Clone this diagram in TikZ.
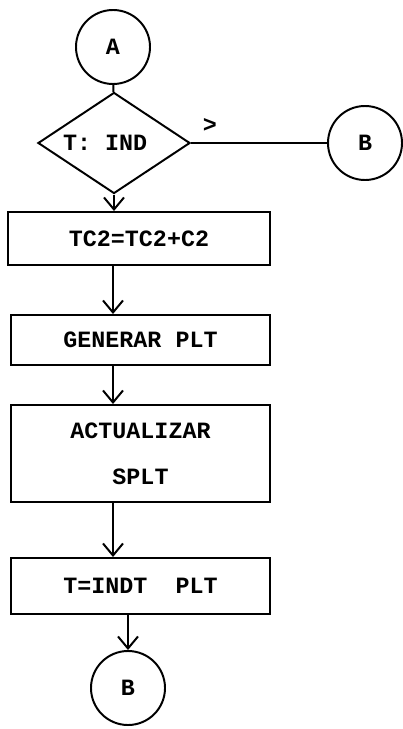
\documentclass[tikz,border=0pt]{standalone}
\usepackage{fontspec}
\setmonofont{Liberation Mono}
\usetikzlibrary{shapes.geometric,arrows.meta}

\begin{document}
\begin{tikzpicture}[x=0.025cm,y=-0.025cm,line width=1.4pt,
	conector/.style={draw,circle,minimum size=1.85cm,inner sep=0pt},
	caja/.style={draw,rectangle,minimum width=6.475cm,inner sep=0pt},
	decision/.style={draw,diamond,minimum width=3.8cm,minimum height=2.525cm,inner sep=0pt},
	flecha/.style={-{Straight Barb[length=3mm,width=5mm]}},
	every node/.style={font=\ttfamily\bfseries\fontsize{16.6}{32.7}\selectfont}]
	\useasboundingbox (0,0) rectangle (402,729);
	\node[conector] (A) at (113,47) {A};
	\node[decision,label={[xshift=-0.22cm]center:{T: IND}}] (ind) at (114,143) {};
	\node[conector] (B) at (365,143) {B};
	\node (mayor) at (210,125) {>};
	\node[caja,minimum width=6.55cm,minimum height=1.325cm] (tc) at (139,238.5) {TC2=TC2+C2};
	\node[caja,minimum height=1.25cm] (gen) at (140.5,340) {GENERAR PLT};
	\node[caja,minimum height=2.425cm,align=center] (act) at (140.5,453.5) {ACTUALIZAR\\SPLT};
	\node[caja,minimum height=1.4cm] (indt) at (140.5,586) {T=INDT\ \ PLT};
	\node[conector] (B2) at (128,688) {B};
	\draw (A) -- (ind);
	\draw (ind) -- (B);
	\draw[flecha] (ind) -- (ind |- tc.north);
	\draw[flecha] (A |- tc.south) -- (A |- gen.north);
	\draw[flecha] (A |- gen.south) -- (A |- act.north);
	\draw[flecha] (A |- act.south) -- (A |- indt.north);
	\draw[flecha] (B2 |- indt.south) -- (B2);
\end{tikzpicture}
\end{document}
